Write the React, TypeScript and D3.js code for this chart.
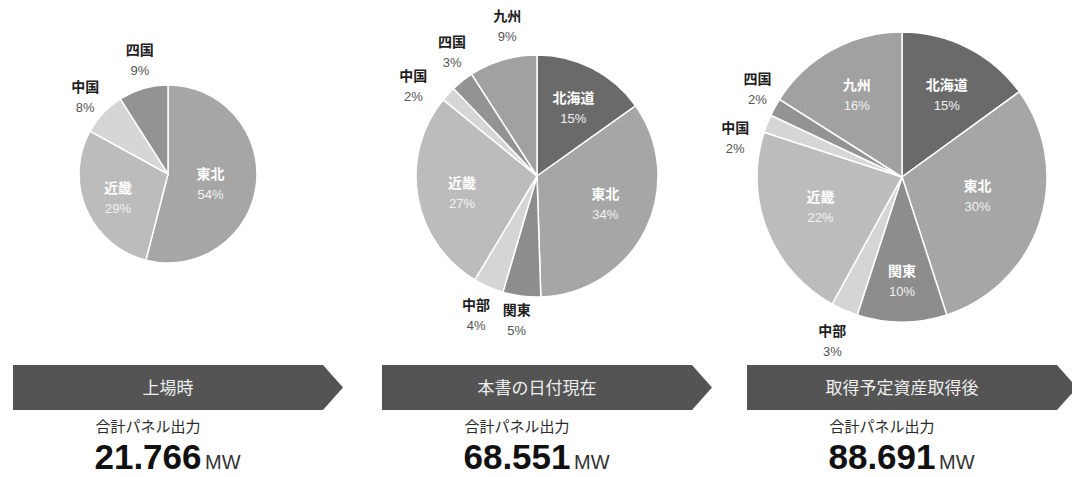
import React from "react";
import * as d3 from "d3";

const regions1 = ["東北", "近畿", "中国", "四国"];
const values1 = [54, 29, 8, 9];
const regions2 = ["北海道", "東北", "関東", "中部", "近畿", "中国", "四国", "九州"];
const values2 = [15, 34, 5, 4, 27, 2, 3, 9];
const regions3 = ["北海道", "東北", "関東", "中部", "近畿", "中国", "四国", "九州"];
const values3 = [15, 30, 10, 3, 22, 2, 2, 16];
const inside1 = ["東北", "近畿"];
const inside2 = ["北海道", "東北", "近畿"];
const inside3 = ["北海道", "東北", "関東", "近畿", "九州"];
const stageTitles = ["上場時", "本書の日付現在", "取得予定資産取得後"];
const totals = ["21.766", "68.551", "88.691"];
const unitLabel = "MW";
const subTitle = "合計パネル出力";

const colorMap: Record<string, string> = {
  北海道: "#6a6a6a",
  東北: "#a6a6a6",
  関東: "#8d8d8d",
  中部: "#d5d5d5",
  近畿: "#bcbcbc",
  中国: "#d6d6d6",
  四国: "#939393",
  九州: "#a1a1a1",
};

const JP = "'Noto Sans CJK JP', 'Noto Sans', sans-serif";
const NUM = "'Liberation Sans', Arial, sans-serif";

type PieSpec = {
  regions: string[];
  values: number[];
  cx: number;
  cy: number;
  r: number;
  inside: string[];
  inFactor: number;
  outPad: number;
  nudge: Record<string, [number, number]>;
};

const pies: PieSpec[] = [
  {
    regions: regions1, values: values1, cx: 168, cy: 174, r: 89, inside: inside1, inFactor: 0.55, outPad: 30,
    nudge: { 東北: [-6, 2], 近畿: [-5, 3], 中国: [4, 2], 四国: [5, -2] },
  },
  {
    regions: regions2, values: values2, cx: 537, cy: 176, r: 121, inside: inside2, inFactor: 0.62, outPad: 31,
    nudge: { 北海道: [2, -3], 東北: [1, -7], 近畿: [-1, 2], 中部: [0, -2], 関東: [-1, -9], 中国: [-12, 11], 四国: [9, -7], 九州: [13, -6] },
  },
  {
    regions: regions3, values: values3, cx: 902, cy: 177, r: 145, inside: inside3, inFactor: 0.62, outPad: 28,
    nudge: { 北海道: [4, -4], 東北: [-10, -11], 関東: [0, 12], 近畿: [2, -5], 九州: [-2, -5], 中部: [-1, 3], 中国: [-6, 23], 四国: [7, -7] },
  },
];

type Datum = { name: string; value: number };

function Pie({ spec }: { spec: PieSpec }) {
  const data: Datum[] = spec.regions.map((name, i) => ({ name, value: spec.values[i] }));
  const pie = d3.pie<Datum>().sort(null).value((d) => d.value);
  const arcs = pie(data);
  const arc = d3.arc<d3.PieArcDatum<Datum>>().innerRadius(0).outerRadius(spec.r);
  const inArc = d3.arc<d3.PieArcDatum<Datum>>().innerRadius(spec.r * spec.inFactor).outerRadius(spec.r * spec.inFactor);
  const outArc = d3.arc<d3.PieArcDatum<Datum>>().innerRadius(spec.r + spec.outPad).outerRadius(spec.r + spec.outPad);
  return (
    <g transform={`translate(${spec.cx},${spec.cy})`}>
      {arcs.map((a, i) => (
        <path key={i} d={arc(a) || ""} fill={colorMap[a.data.name]} stroke="#ffffff" strokeWidth={1.5} strokeLinejoin="round" />
      ))}
      {arcs.map((a, i) => {
        const isIn = spec.inside.includes(a.data.name);
        const [bx, by] = isIn ? inArc.centroid(a) : outArc.centroid(a);
        const [nx, ny] = spec.nudge[a.data.name] || [0, 0];
        return (
          <g key={"l" + i} transform={`translate(${bx + nx},${by + ny})`}>
            <text y={-3} textAnchor="middle" fontFamily={JP} fontWeight={700} fontSize={14} fill={isIn ? "#ffffff" : "#1e1e1e"}>
              {a.data.name}
            </text>
            <text y={17} textAnchor="middle" fontFamily={NUM} fontSize={13} fill={isIn ? "#f2f2f2" : "#555555"}>
              {a.data.value + "%"}
            </text>
          </g>
        );
      })}
    </g>
  );
}

function Footer({ cx, title, total }: { cx: number; title: string; total: string }) {
  const top = 365;
  const h = 45;
  const half = 155;
  const tip = 20;
  const pts = [
    [cx - half, top],
    [cx + half, top],
    [cx + half + tip, top + h / 2],
    [cx + half, top + h],
    [cx - half, top + h],
  ]
    .map((p) => p.join(","))
    .join(" ");
  const numX = cx - 20;
  return (
    <g>
      <polygon points={pts} fill="#545454" />
      <text x={cx} y={top + h / 2 + 6} textAnchor="middle" fontFamily={JP} fontSize={17} fill="#eeeeee">
        {title}
      </text>
      <text x={numX} y={432} textAnchor="middle" fontFamily={JP} fontSize={15} fill="#2a2a2a">
        {subTitle}
      </text>
      <text x={numX} y={469} textAnchor="middle" fontFamily={NUM} fontWeight={700} fontSize={35} fill="#111111">
        {total}
      </text>
      <text x={numX + 57} y={469} textAnchor="start" fontFamily={NUM} fontSize={20} fill="#333333">
        {unitLabel}
      </text>
    </g>
  );
}

export default function App() {
  return (
    <svg width={1072} height={477} style={{ position: "absolute", left: 0, top: 0, background: "#ffffff" }}>
      <rect width={1072} height={477} fill="#ffffff" />
      {pies.map((p, i) => (
        <Pie key={i} spec={p} />
      ))}
      {pies.map((p, i) => (
        <Footer key={"f" + i} cx={p.cx} title={stageTitles[i]} total={totals[i]} />
      ))}
    </svg>
  );
}
